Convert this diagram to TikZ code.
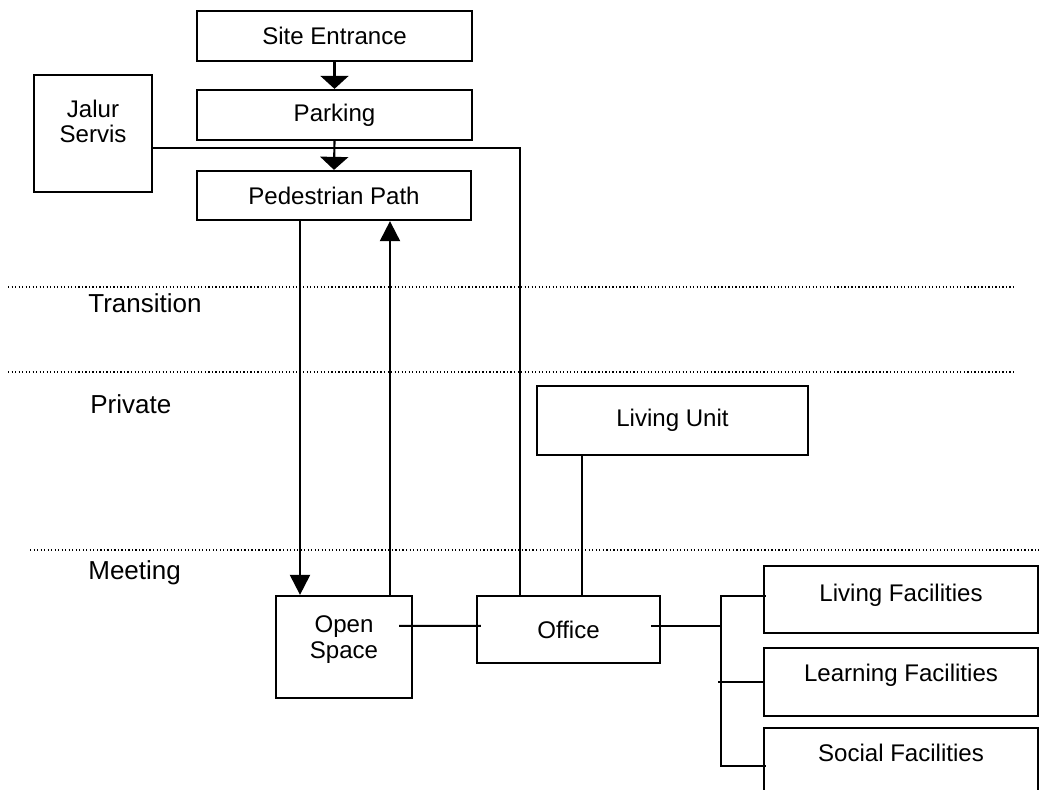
\documentclass[tikz,border=0pt]{standalone}
\usepackage{fontspec}
\setmainfont{Liberation Sans}
\usepackage{tikz}
\usetikzlibrary{arrows.meta}
\tikzset{
    base_text/.style = {align=center, inner sep=0pt, text centered, font=\fontsize{13.7}{14.4}\selectfont},
    box_node/.style = {base_text, rectangle, draw=black, line width=1.3pt},
    zone_label/.style = {base_text, anchor=west, font=\fontsize{14.8}{17}\selectfont},
    zone_line/.style = {line width=0.7pt, dash pattern=on 0.7pt off 1.3pt},
    link_line/.style = {line width=1.2pt},
    small_arrow/.style = {link_line, -{Triangle[width=0.56cm, length=0.26cm]}},
    big_arrow/.style = {link_line, -{Triangle[width=0.4cm, length=0.4cm]}},
    lift/.style = {text depth=#1}
}

\begin{document}
\begin{tikzpicture}[x=0.02cm, y=-0.02cm]
    \useasboundingbox (0,0) rectangle (1039,789);

    % zones
    \draw[zone_line] (8,287) -- (1013,287);
    \draw[zone_line] (8,372) -- (1013,372);
    \draw[zone_line] (30,550) -- (1039,550);
    \node[zone_label] (transition) at (88,303) {Transition};
    \node[zone_label] (private) at (90,404) {Private};
    \node[zone_label] (meeting) at (88,573) {Meeting};

    % boxes
    \node[box_node, minimum width=5.5cm, minimum height=1cm] (site) at (334.5,36) {Site Entrance};
    \node[box_node, minimum width=5.5cm, minimum height=1cm] (parking) at (334.5,115) {Parking};
    \node[box_node, minimum width=5.48cm, minimum height=0.98cm] (ped) at (334,195.5) {Pedestrian Path};
    \node[box_node, minimum width=2.36cm, minimum height=2.34cm, lift=0.48cm] (servis) at (93,133.5) {Jalur\\Servis};
    \node[box_node, minimum width=5.42cm, minimum height=1.38cm] (living) at (672.5,420.5) {Living Unit};
    \node[box_node, minimum width=2.72cm, minimum height=2.04cm, lift=0.4cm] (open) at (344,647) {Open\\Space};
    \node[box_node, minimum width=3.66cm, minimum height=1.34cm] (office) at (568.5,629.5) {Office};
    \node[box_node, minimum width=5.48cm, minimum height=1.34cm, lift=0.26cm] (livfac) at (901,599.5) {Living Facilities};
    \node[box_node, minimum width=5.48cm, minimum height=1.36cm, lift=0.36cm] (learnfac) at (901,682) {Learning Facilities};
    \node[box_node, minimum width=5.48cm, minimum height=1.36cm, lift=0.36cm] (socfac) at (901,762) {Social Facilities};

    % arrows
    \draw[small_arrow] (site.south) -- (parking.north);
    \draw[small_arrow] (parking.south) -- (ped.north);
    \draw[big_arrow] ([xshift=-0.68cm]ped.south) -- ([xshift=-0.68cm]ped.south |- open.north);
    \draw[big_arrow] ([xshift=1.12cm]ped.south |- open.north) -- ([xshift=1.12cm]ped.south);

    % links
    \draw[link_line] ([yshift=-0.29cm]servis.east) -| ([xshift=-0.97cm]office.north);
    \draw[link_line] ([xshift=0.27cm]office.north |- living.south) -- ([xshift=0.27cm]office.north);
    \draw[link_line] ([shift={(-14,31)}]open.north east) -- ([shift={(5,31)}]office.north west);

    \coordinate (bustop) at (721,596);
    \coordinate (busbot) at (721,766);
    \draw[link_line] ([shift={(-10,31)}]office.north east) -| (bustop);
    \draw[link_line] ([xshift=0.06cm]livfac.west |- bustop) -- (bustop) -- (busbot) -- ([xshift=0.06cm]socfac.west |- busbot);
    \draw[link_line] ([xshift=-0.06cm]bustop |- learnfac.west) -- (learnfac.west);
\end{tikzpicture}
\end{document}
